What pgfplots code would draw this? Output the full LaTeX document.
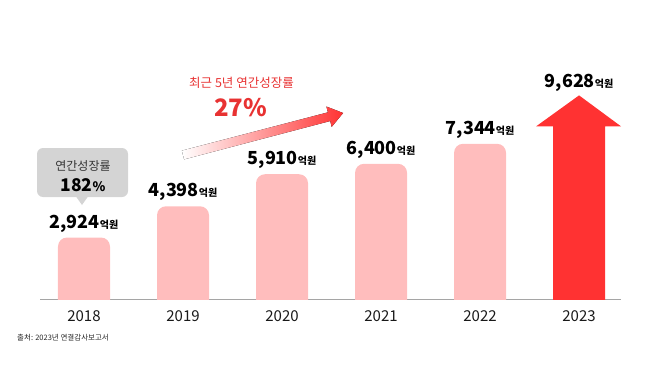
\documentclass[border=0pt]{standalone}
\usepackage{pgfplots}
\pgfplotsset{compat=1.18}
\usepackage{pgfplotstable}
\usepackage{fontspec}
\setmainfont{Noto Sans CJK KR}
\definecolor{barpink}{RGB}{255,189,189}
\definecolor{arrred}{RGB}{255,50,50}
\definecolor{txtred}{RGB}{232,50,50}
\definecolor{boxgray}{RGB}{212,212,212}
\definecolor{axgray}{RGB}{165,165,165}

\pgfdeclareplotmark{roundbar}{%
  \pgfpathmoveto{\pgfpoint{-26pt}{-400pt}}%
  \pgfpathlineto{\pgfpoint{-26pt}{-9pt}}%
  \pgfpatharc{180}{90}{9pt}%
  \pgfpathlineto{\pgfpoint{17pt}{0pt}}%
  \pgfpatharc{90}{0}{9pt}%
  \pgfpathlineto{\pgfpoint{26pt}{-400pt}}%
  \pgfpathclose
  \pgfusepathqfill}
\pgfdeclareplotmark{bigarrow}{%
  \pgfpathmoveto{\pgfpoint{0pt}{0pt}}%
  \pgfpathlineto{\pgfpoint{42pt}{-31pt}}%
  \pgfpathlineto{\pgfpoint{26pt}{-31pt}}%
  \pgfpathlineto{\pgfpoint{26pt}{-400pt}}%
  \pgfpathlineto{\pgfpoint{-26pt}{-400pt}}%
  \pgfpathlineto{\pgfpoint{-26pt}{-31pt}}%
  \pgfpathlineto{\pgfpoint{-43pt}{-31pt}}%
  \pgfpathclose
  \pgfusepathqfill}

\pgfplotstableread{
x y
0 2924
1 4398
2 5910
3 6400
4 7344
}\revbars
\pgfplotstableread{
x y
5 9628
}\revlast

\begin{document}
\begin{tikzpicture}[x=1pt,y=1pt]
\useasboundingbox (0,0) rectangle (658,365);
\begin{axis}[
  at={(84pt,65.5pt)}, anchor=origin,
  scale only axis, width=581pt, height=290pt,
  xmin=-0.444, xmax=5.424, ymin=0, ymax=13679,
  hide y axis, axis x line*=bottom,
  x axis line style={-, draw=axgray, line width=0.8pt},
  xtick={0,1,2,3,4,5}, xticklabels={2018,2019,2020,2021,2022,2023},
  major tick length=0pt,
  xticklabel style={anchor=center, yshift=-17pt, text=black!90, font=\fontsize{15}{15}\selectfont},
  clip marker paths=true,
  point meta=y,
  nodes near coords={\pgfmathprintnumber[fixed,precision=0,1000 sep={,},assume math mode=true]{\pgfplotspointmeta}{\fontsize{10}{10}\selectfont 억원}},
  nodes near coords align={vertical},
  every node near coord/.append style={anchor=base, text=black, inner sep=0pt, font=\bfseries\fontsize{18}{18}\selectfont},
]
\addplot[only marks, mark=roundbar, color=barpink,
  every node near coord/.append style={yshift=9.5pt}] table[x=x,y=y] {\revbars};
\addplot[only marks, mark=bigarrow, color=arrred,
  every node near coord/.append style={yshift=7.5pt}] table[x=x,y=y] {\revlast};
\end{axis}

% growth arrow
\begin{scope}[shift={(183,210)}, rotate=14.7]
\fill[left color=white, middle color=arrred!65, right color=arrred]
  (0,-4.5) -- (151,-4.5) -- (151,-10.5) -- (165.5,0) -- (151,10.5) -- (151,4.5) -- (0,4.5) -- cycle;
\end{scope}
\node[text=txtred, font=\fontsize{12.5}{12.5}\selectfont] at (241.5,282.3) {최근 5년 연간성장률};
\node[text=txtred, font=\bfseries\fontsize{24}{24}\selectfont] at (240.5,257.3) {27\%};

% callout
\fill[boxgray, rounded corners=6pt] (37,168) rectangle (128,217);
\fill[boxgray] (76,168.5) -- (82,160) -- (88,168.5) -- cycle;
\node[text=black!80, font=\fontsize{12}{12}\selectfont] at (83,199) {연간성장률};
\node[text=black, font=\bfseries\fontsize{17.5}{17.5}\selectfont] at (83,180) {182{\fontsize{13}{13}\selectfont\%}};

% source
\node[anchor=west, text=black!85, inner sep=0pt, font=\fontsize{7.5}{7.5}\selectfont] at (17,27.3) {출처: 2023년 연결감사보고서};
\end{tikzpicture}
\end{document}
